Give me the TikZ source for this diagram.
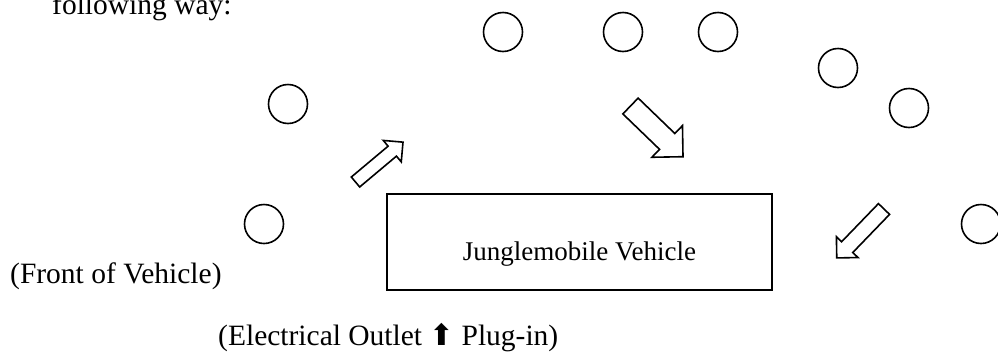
\documentclass[tikz,border=0pt]{standalone}
\usepackage{fontspec}
\setmainfont{Liberation Serif}
\newfontfamily\symfont{DejaVu Sans}

\tikzset{
  pics/blockarrow/.style n args={3}{% length, half shaft, half head
    code={\draw[line width=1.6pt,line join=miter] (0,-#2) -- ({#1-#3},-#2) -- ({#1-#3},-#3) -- (#1,0)
      -- ({#1-#3},#3) -- ({#1-#3},#2) -- (0,#2) -- cycle;}}
}

\begin{document}
\begin{tikzpicture}[x=1pt,y=-1pt,font=\fontsize{29.5}{35}\selectfont]

        \useasboundingbox (0,0) rectangle (998,354);

        \begin{scope}[every node/.style={circle,draw,line width=1.6pt,minimum size=39pt,inner sep=0pt}]
          \node (1) at (288,104) {};
          \node (2) at (264,224) {};
          \node (3) at (503,32)  {};
          \node (4) at (623,32)  {};
          \node (5) at (718,32)  {};
          \node (6) at (838,68)  {};
          \node (7) at (909,108) {};
          \node (8) at (981,224) {};
        \end{scope}

        % block arrows
        \pic[rotate=40]   (a1) at (355.5,182) {blockarrow={62}{6.5}{14}};
        \pic[rotate=-44]  (a2) at (630.5,106) {blockarrow={73}{11}{22}};
        \pic[rotate=-134] (a3) at (884,209)   {blockarrow={68}{7.75}{15}};

        \node (vehicle) [draw,line width=2.4pt,minimum width=385pt,minimum height=96pt,
          inner sep=0pt] at (579.5,242) {};

        \begin{scope}[every node/.style={inner sep=0pt}]
          \node (name)   [anchor=base,font=\fontsize{27}{32}\selectfont]
            at ([yshift=-18pt]vehicle.center) {Junglemobile Vehicle};
          \node (intro)  [anchor=base west] at (52,14)  {following way:};
          \node (front)  [anchor=base west] at (10,283) {(Front of Vehicle)};
          \node (outlet) [anchor=base west] at (218,345) {(Electrical Outlet {\symfont ⬆} Plug-in)};
        \end{scope}

      \end{tikzpicture}
\end{document}
